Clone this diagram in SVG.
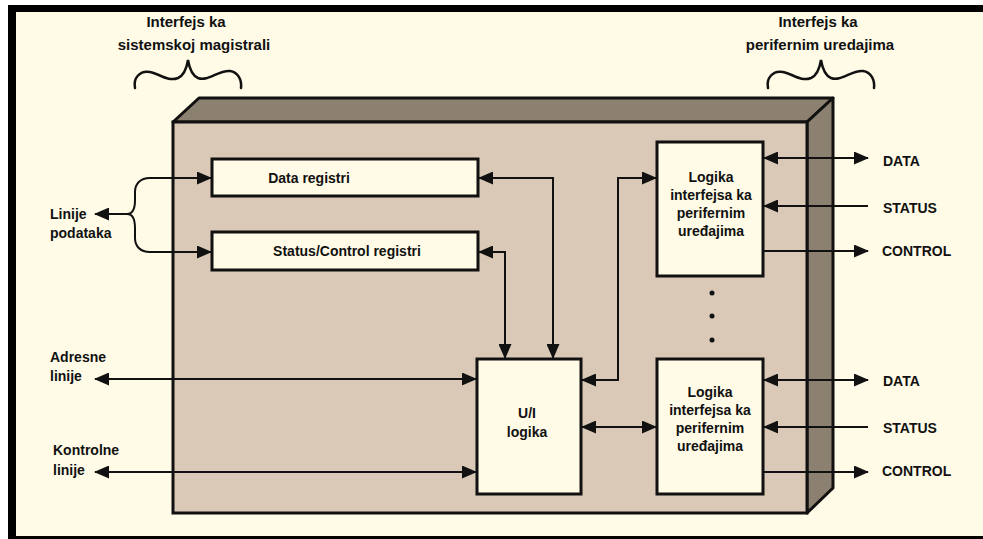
<svg xmlns="http://www.w3.org/2000/svg" width="983" height="539" viewBox="0 0 983 539">
<style>
text{font-family:"Liberation Sans",Arial,sans-serif;font-weight:bold;font-size:14px;fill:#111}
.top{font-size:15px}
.c{text-anchor:middle}
.box{fill:#fffbe6;stroke:#111;stroke-width:3}
.ln{fill:none;stroke:#111;stroke-width:2}
.ar{marker-end:url(#ah)}
.ar2{marker-start:url(#ah);marker-end:url(#ah)}
.brace{fill:none;stroke:#111;stroke-width:2.5;stroke-linecap:round}
</style>
<defs>
<marker id="ah" markerUnits="userSpaceOnUse" markerWidth="15" markerHeight="13" refX="14" refY="6.5" orient="auto-start-reverse">
<path d="M0,0 L15,6.5 L0,13 Z" fill="#111"/>
</marker>
</defs>
<rect x="0" y="0" width="983" height="539" fill="#fffbe6"/>
<rect x="0" y="0" width="8" height="539" fill="#ffffff"/>
<rect x="0" y="0" width="983" height="5" fill="#ffffff"/>
<rect x="8" y="5" width="975" height="7" fill="#000"/>
<rect x="8" y="5" width="8" height="534" fill="#000"/>
<rect x="8" y="536" width="975" height="3" fill="#000"/>

<g id="labels-top">
<text class="top c" x="186" y="27">Interfejs ka</text>
<text class="top c" x="194" y="50">sistemskoj magistrali</text>
<path class="brace" d="M135,88 C133,78 140,70 150,72 C160,74 168,82 178,78 C185,75 187,66 188,60 C189,66 191,75 198,78 C208,82 218,70 230,71 C238,72 242,80 241,88"/>
<text class="top c" x="818" y="27">Interfejs ka</text>
<text class="top c" x="820" y="50">perifernim uredajima</text>
<path class="brace" d="M768,88 C766,78 773,70 783,72 C793,74 801,82 811,78 C818,75 820,66 821,60 C822,66 824,75 831,78 C841,82 851,70 863,71 C871,72 875,80 874,88"/>
</g>

<g id="module">
<polygon points="173,122 199,98 833,98 807,122" fill="#8c8070" stroke="#111" stroke-width="3" stroke-linejoin="round"/>
<polygon points="807,122 833,98 833,488 807,513" fill="#8c8070" stroke="#111" stroke-width="3" stroke-linejoin="round"/>
<rect x="173" y="122" width="634" height="391" fill="#d9c9b6" stroke="#111" stroke-width="3"/>
</g>

<g id="data-registri">
<rect class="box" x="212" y="159" width="266" height="37"/>
<text class="c" x="309" y="183">Data registri</text>
</g>
<g id="status-control-registri">
<rect class="box" x="212" y="232" width="266" height="38"/>
<text class="c" x="347" y="256">Status/Control registri</text>
</g>
<g id="ui-logika">
<rect class="box" x="477" y="359" width="104" height="135"/>
<text class="c" x="527" y="418">U/I</text>
<text class="c" x="527" y="437">logika</text>
</g>
<g id="logika-1">
<rect class="box" x="657" y="142" width="106" height="134"/>
<text class="c" x="711" y="182">Logika</text>
<text class="c" x="711" y="200">interfejsa ka</text>
<text class="c" x="711" y="218">perifernim</text>
<text class="c" x="711" y="236">uređajima</text>
</g>
<g id="logika-2">
<rect class="box" x="657" y="359" width="106" height="135"/>
<text class="c" x="710" y="397">Logika</text>
<text class="c" x="710" y="415">interfejsa ka</text>
<text class="c" x="710" y="433">perifernim</text>
<text class="c" x="710" y="451">uređajima</text>
</g>
<g id="dots">
<circle cx="712" cy="293" r="2.5" fill="#111"/>
<circle cx="712" cy="316" r="2.5" fill="#111"/>
<circle cx="712" cy="340" r="2.5" fill="#111"/>
</g>

<g id="side-labels">
<text x="50" y="219">Linije</text>
<text x="50" y="238">podataka</text>
<text x="50" y="362">Adresne</text>
<text x="50" y="381">linije</text>
<text x="53" y="455">Kontrolne</text>
<text x="53" y="475">linije</text>
<text x="883" y="166">DATA</text>
<text x="883" y="213">STATUS</text>
<text x="882" y="256">CONTROL</text>
<text x="883" y="386">DATA</text>
<text x="883" y="433">STATUS</text>
<text x="882" y="476">CONTROL</text>
</g>

<g id="connectors">
<path class="ln" d="M128,214 H95" marker-end="url(#ah)"/>
<path class="ln ar" d="M127,214 C133,214 135,208 135,200 V192 C135,184 140,178 150,178 H211"/>
<path class="ln ar" d="M127,214 C133,214 135,220 135,228 V238 C135,246 140,252 150,252 H211"/>
<path class="ln ar2" d="M479,178 H553 V358"/>
<path class="ln ar2" d="M479,252 H505 V358"/>
<path class="ln ar2" d="M582,380 H618 V178 H656"/>
<path class="ln ar2" d="M582,427 H656"/>
<path class="ln ar2" d="M95,379 H476"/>
<path class="ln ar2" d="M95,472 H476"/>
<path class="ln ar2" d="M764,158 H868"/>
<path class="ln ar" d="M868,206 H764"/>
<path class="ln ar" d="M764,251 H868"/>
<path class="ln ar2" d="M764,380 H868"/>
<path class="ln ar" d="M868,427 H764"/>
<path class="ln ar" d="M764,472 H868"/>
</g>
</svg>
